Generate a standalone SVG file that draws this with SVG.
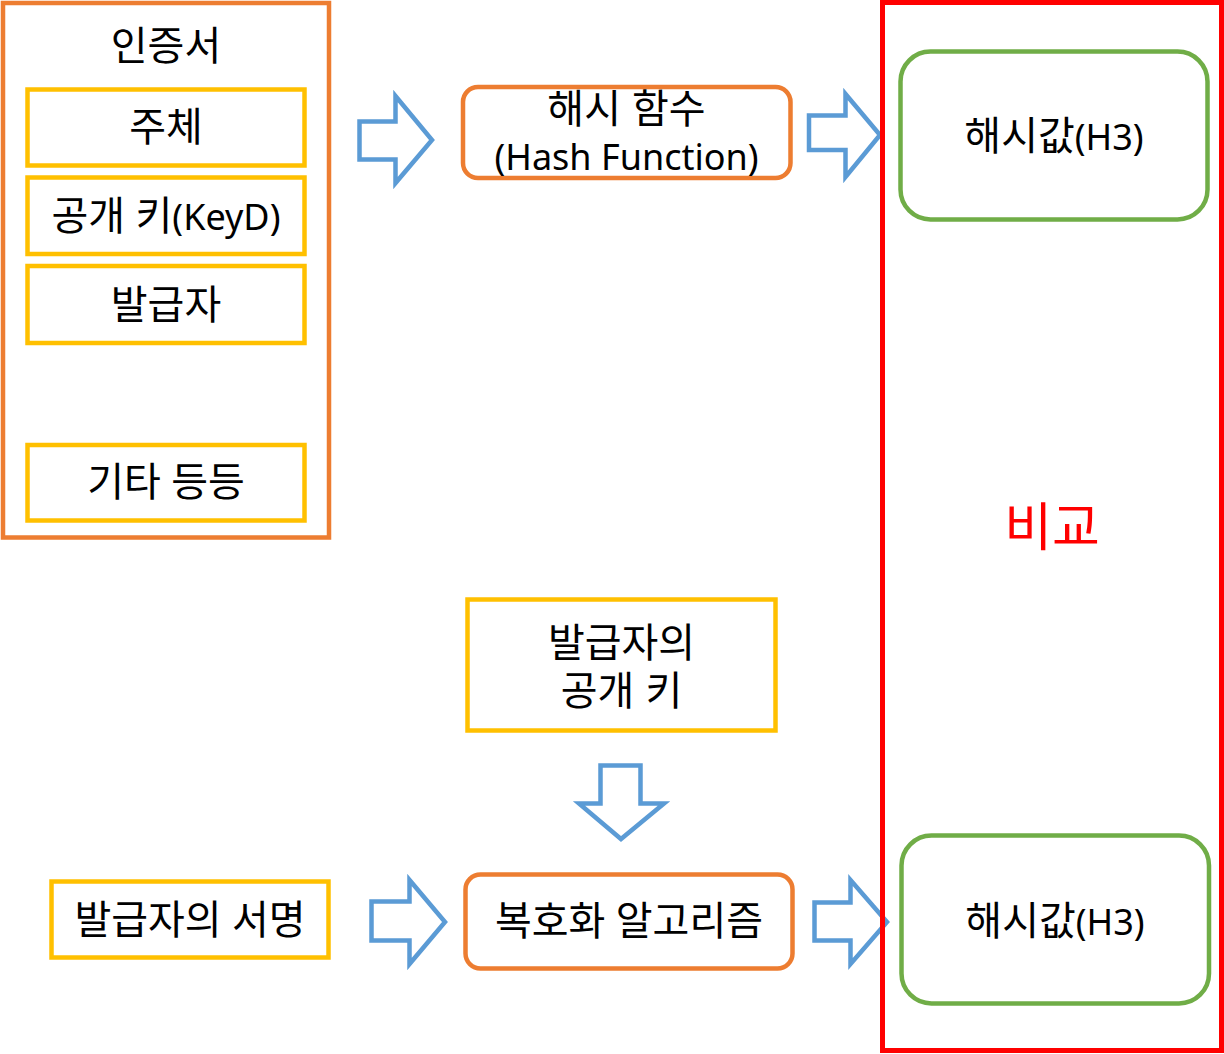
<svg xmlns="http://www.w3.org/2000/svg" width="1224" height="1054" viewBox="0 0 1224 1054">
<style>
text{font-family:"Noto Sans","Noto Sans CJK KR",sans-serif;font-size:40px;fill:#000;text-anchor:middle}
.lat{font-size:36px}
.ml{font-family:"Liberation Sans","Noto Sans CJK KR",sans-serif}
.org{fill:#fff;stroke:#ED7D31;stroke-width:4.5}
.yel{fill:#fff;stroke:#FFC000;stroke-width:4.5}
.grn{fill:#fff;stroke:#70AD47;stroke-width:4.5}
.arr{fill:#fff;stroke:#5B9BD5;stroke-width:4.5;stroke-linejoin:miter}
</style>
<rect width="1224" height="1054" fill="#fff"/>
<g id="cert">
  <rect class="org" x="3" y="3" width="326" height="534.5"/>
  <text x="166" y="60">인증서</text>
</g>
<g id="subject">
  <rect class="yel" x="27.5" y="89.5" width="277" height="76"/>
  <text x="166" y="140.5">주체</text>
</g>
<g id="pubkey">
  <rect class="yel" x="27.5" y="177.5" width="277" height="76.5"/>
  <text x="166" y="230">공개 키<tspan class="lat">(KeyD)</tspan></text>
</g>
<g id="issuer">
  <rect class="yel" x="27.5" y="266" width="277" height="77"/>
  <text x="166" y="318.5">발급자</text>
</g>
<g id="etc">
  <rect class="yel" x="27.5" y="445" width="277" height="75.5"/>
  <text x="166" y="496">기타 등등</text>
</g>
<g id="hashfn">
  <rect class="org" x="463" y="87" width="327.5" height="91" rx="15"/>
  <text class="ml" x="626.5" y="122.5">해시 함수</text>
  <text class="lat" x="626.5" y="169.5">(Hash Function)</text>
</g>
<g id="hash1">
  <rect class="grn" x="900.5" y="51.5" width="307" height="168" rx="30"/>
  <text x="1054" y="150">해시값<tspan class="lat">(H3)</tspan></text>
</g>
<g id="issuerkey">
  <rect class="yel" x="467.5" y="599.5" width="308" height="131"/>
  <text class="ml" x="621.5" y="657">발급자의</text>
  <text class="ml" x="621.5" y="704.5">공개 키</text>
</g>
<g id="signature">
  <rect class="yel" x="51.5" y="881.5" width="277" height="76"/>
  <text x="190" y="934">발급자의 서명</text>
</g>
<g id="decrypt">
  <rect class="org" x="465.5" y="874.5" width="327" height="94" rx="15"/>
  <text x="629" y="935">복호화 알고리즘</text>
</g>
<g id="hash2">
  <rect class="grn" x="901.5" y="835.5" width="307.5" height="168" rx="30"/>
  <text x="1055" y="935">해시값<tspan class="lat">(H3)</tspan></text>
</g>
<g id="connectors">
  <polygon class="arr" points="359.5,121.5 395.5,121.5 395.5,96 432,140 395.5,183 395.5,159.5 359.5,159.5"/>
  <polygon class="arr" points="809,115.5 845.5,115.5 845.5,94 880,135 845.5,177 845.5,150 809,150"/>
  <polygon class="arr" points="600.5,765.5 640.5,765.5 640.5,803.5 664,803.5 621,839 579,803.5 600.5,803.5"/>
  <polygon class="arr" points="371.5,901.5 409.5,901.5 409.5,880 445,922 409.5,964 409.5,940.5 371.5,940.5"/>
  <polygon class="arr" points="814.5,902.5 850.5,902.5 850.5,880 887,922 850.5,964 850.5,940.5 814.5,940.5"/>
</g>
<g id="compare">
  <rect x="882.5" y="2.5" width="339" height="1048" fill="none" stroke="#FF0000" stroke-width="5"/>
  <text x="1052" y="546" style="font-size:52px;fill:#FF0000">비교</text>
</g>
</svg>
